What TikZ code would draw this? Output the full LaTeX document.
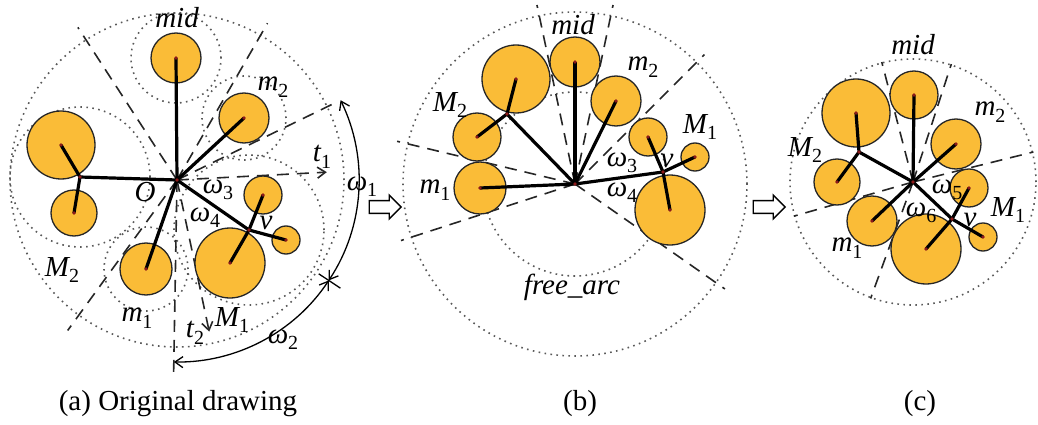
\documentclass[tikz,border=0pt]{standalone}
\usepackage{fontspec}
\setmainfont{Liberation Serif}
\usetikzlibrary{positioning, arrows.meta, calc, shapes.arrows}
\definecolor{ballfill}{HTML}{FABC37}
\definecolor{ctrdot}{HTML}{8B1A1A}
\newcommand{\idx}[1]{\raisebox{-0.22em}{\fontsize{20}{20}\selectfont\upshape #1}}

\begin{document}
\begin{tikzpicture}[x=1pt, y=1pt,
  ball/.style={circle, draw=black!85, line width=1.3pt, fill=ballfill, inner sep=0pt, minimum size=#1*2pt},
  link/.style={line width=3.2pt, black},
  ray/.style={line width=1.6pt, black!85, dash pattern=on 12pt off 8pt},
  guide/.style={line width=1.6pt, black!65, dash pattern=on 1.6pt off 4.4pt},
  tipb/.style={-{Straight Barb[length=8pt,width=11pt]}},
  dim/.style={line width=1.3pt, {Straight Barb[length=8pt,width=11pt]}-{Straight Barb[length=8pt,width=11pt]}},
  lbl/.style={font=\fontsize{29}{34}\selectfont\itshape, inner sep=0pt},
  capt/.style={font=\fontsize{29}{34}\selectfont, inner sep=0pt},
  hollow/.style={single arrow, draw, line width=1.4pt, fill=white, minimum height=32pt, minimum width=24pt, single arrow head extend=5pt, inner sep=5pt}]
\useasboundingbox (0,0) rectangle (1038,-425);

\coordinate (Oa) at (177,-180);
\coordinate (a-jM) at (80,-177);
\coordinate (a-v) at (249,-230);
\draw[guide] (Oa) circle (167);
\draw[guide] (a-jM) circle (70);
\draw[guide] (a-v) circle (75);
\draw[guide] (176,-58) circle (45);
\draw[guide] (244,-118) circle (42);
\draw[guide] (146,-269) circle (42);
\foreach \i/\a/\l in {1/123/182, 2/60/181, 3/26/172, 4/-91/192, 5/-126/186}
  {\coordinate (a-e\i) at ($(Oa)+(\a:\l)$); \draw[ray] (Oa) -- (a-e\i);}
\coordinate (a-t1) at ($(Oa)+(3:150)$);
\coordinate (a-t2) at ($(Oa)+(-78:155)$);
\draw[ray, tipb] (Oa) -- (a-t1);
\draw[ray, tipb] (Oa) -- (a-t2);
\foreach \n/\x/\y/\r in {a-mid/176/58/25, a-m2/244/118/25, a-Mbig/61/145/34, a-Msm/74/213/23, a-m1/146/269/26, a-Vbig/230/263/35, a-Vup/263/195/19, a-Vsm/286/240/14}
  \node[ball=\r] (\n) at (\x,-\y) {};
\foreach \n in {a-mid, a-m2, a-m1, a-jM, a-v}
  \draw[link] (Oa) -- (\n.center);
\draw[link] (a-Mbig.center) -- (a-jM) -- (a-Msm.center);
\draw[link] (a-Vup.center) -- (a-v) -- (a-Vbig.center);
\draw[link] (a-v) -- (a-Vsm.center);
\foreach \n in {Oa, a-jM, a-v, a-mid, a-m2, a-Mbig, a-Msm, a-m1, a-Vbig, a-Vup, a-Vsm}
  \fill[ctrdot] (\n.center) circle (1.8);
\draw[dim] ($(Oa)+(26:182)$) arc[start angle=26, end angle=-33.5, radius=182];
\draw[dim] ($(Oa)+(-33.5:182)$) arc[start angle=-33.5, end angle=-91, radius=182];
\coordinate (a-k1) at ($(Oa)+(-33.5:170)$);
\coordinate (a-k2) at ($(Oa)+(-33.5:196)$);
\draw[line width=1.3pt] (a-k1) -- (a-k2);
\node[lbl] (a-lmid) at (177,-18) {mid};
\node[lbl] (a-lm2) at (273,-87) {m\idx{2}};
\node[lbl] (a-lt1) at (322,-157) {t\idx{1}};
\node[lbl] (a-lO) at (145,-192) {O};
\node[lbl] (a-lw3) at (218,-190) {ω\idx{3}};
\node[lbl] (a-lw4) at (205,-218) {ω\idx{4}};
\node[lbl] (a-lv) at (266,-223) {v};
\node[lbl] (a-lM2) at (62,-270) {M\idx{2}};
\node[lbl] (a-lm1) at (137,-318) {m\idx{1}};
\node[lbl] (a-lt2) at (195,-333) {t\idx{2}};
\node[lbl] (a-lM1) at (232,-320) {M\idx{1}};
\node[lbl] (a-lw1) at (362,-187) {ω\idx{1}};
\node[lbl] (a-lw2) at (283,-340) {ω\idx{2}};

\node[hollow] (ab) at (382,-207) {};

\coordinate (Ob) at (575,-184);
\coordinate (b-jM) at (507,-114);
\coordinate (b-v) at (663,-172);
\draw[guide] (Ob) circle (172);
\draw[guide] (Ob) circle (92);
\foreach \i/\a in {1/166.5, 2/198, 3/45, 4/-35, 5/102, 6/78}
  {\coordinate (b-e\i) at ($(Ob)+(\a:183)$); \draw[ray] (Ob) -- (b-e\i);}
\foreach \n/\x/\y/\r in {b-mid/575/62/25, b-m2/616/101/25, b-Mbig/516/79/34, b-Msm/477/137/24, b-m1/480/188/26, b-Vbig/670/210/35, b-Vup/648/137/19, b-Vsm/695/157/14}
  \node[ball=\r] (\n) at (\x,-\y) {};
\foreach \n in {b-mid, b-m2, b-m1, b-jM, b-v}
  \draw[link] (Ob) -- (\n.center);
\draw[link] (b-Mbig.center) -- (b-jM) -- (b-Msm.center);
\draw[link] (b-Vup.center) -- (b-v) -- (b-Vbig.center);
\draw[link] (b-v) -- (b-Vsm.center);
\foreach \n in {Ob, b-jM, b-v, b-mid, b-m2, b-Mbig, b-Msm, b-m1, b-Vbig, b-Vup, b-Vsm}
  \fill[ctrdot] (\n.center) circle (1.8);
\node[lbl] (b-lmid) at (573,-25) {mid};
\node[lbl] (b-lm2) at (643,-67) {m\idx{2}};
\node[lbl] (b-lM2) at (450,-105) {M\idx{2}};
\node[lbl] (b-lM1) at (700,-127) {M\idx{1}};
\node[lbl] (b-lm1) at (435,-190) {m\idx{1}};
\node[lbl] (b-lw3) at (622,-163) {ω\idx{3}};
\node[lbl] (b-lw4) at (622,-193) {ω\idx{4}};
\node[lbl] (b-lv) at (667,-161) {v};
\node[lbl] (b-lfree) at (572,-287) {free\_arc};

\node[hollow] (bc) at (766,-207) {};

\coordinate (Oc) at (913,-182);
\coordinate (c-jM) at (859,-152);
\coordinate (c-v) at (952,-219);
\draw[guide] (Oc) circle (123);
\foreach \i/\a in {1/196, 2/14, 3/250, 4/104.6, 5/72}
  {\coordinate (c-e\i) at ($(Oc)+(\a:124)$); \draw[ray] (Oc) -- (c-e\i);}
\foreach \n/\x/\y/\r in {c-mid/914/95/24, c-m2/956/144/25, c-Mbig/856/113/34, c-Msm/837/182/23, c-m1/872/221/25, c-Vbig/926/249/35, c-Vup/969/188/19, c-Vsm/983/237/14}
  \node[ball=\r] (\n) at (\x,-\y) {};
\foreach \n in {c-mid, c-m2, c-m1, c-jM, c-v}
  \draw[link] (Oc) -- (\n.center);
\draw[link] (c-Mbig.center) -- (c-jM) -- (c-Msm.center);
\draw[link] (c-Vup.center) -- (c-v) -- (c-Vbig.center);
\draw[link] (c-v) -- (c-Vsm.center);
\foreach \n in {Oc, c-jM, c-v, c-mid, c-m2, c-Mbig, c-Msm, c-m1, c-Vbig, c-Vup, c-Vsm}
  \fill[ctrdot] (\n.center) circle (1.8);
\node[lbl] (c-lmid) at (913,-45) {mid};
\node[lbl] (c-lm2) at (990,-112) {m\idx{2}};
\node[lbl] (c-lM2) at (805,-150) {M\idx{2}};
\node[lbl] (c-lw5) at (947,-190) {ω\idx{5}};
\node[lbl] (c-lw6) at (921,-213) {ω\idx{6}};
\node[lbl] (c-lv) at (970,-220) {v};
\node[lbl] (c-lM1) at (1008,-210) {M\idx{1}};
\node[lbl] (c-lm1) at (847,-248) {m\idx{1}};

\node[capt] (capa) at (178,-404) {(a) Original drawing};
\node[capt] (capb) at (580,-404) {(b)};
\node[capt] (capc) at (920,-404) {(c)};
\end{tikzpicture}
\end{document}
